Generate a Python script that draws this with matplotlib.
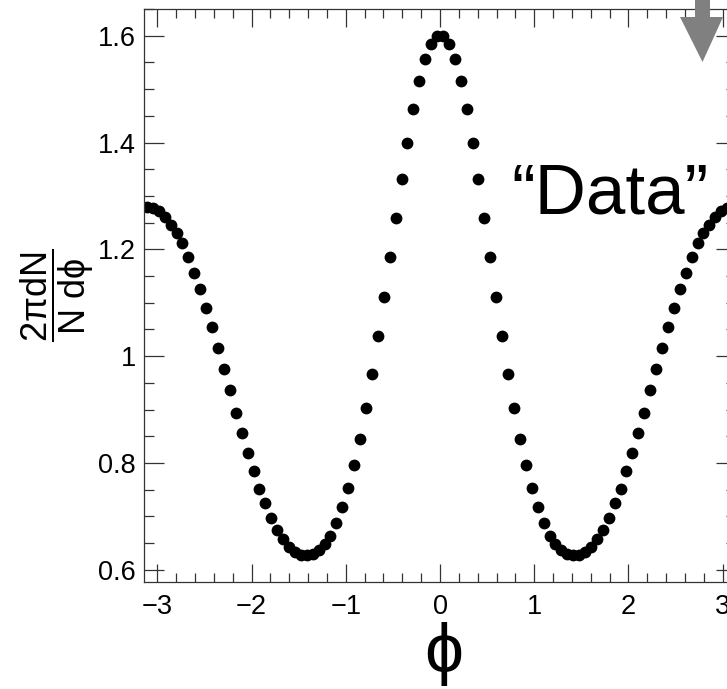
import numpy as np
import matplotlib
matplotlib.use("Agg")
import matplotlib.pyplot as plt
from matplotlib.patches import Polygon
from matplotlib.ticker import MultipleLocator

plt.rcParams["font.family"] = ["Liberation Sans", "DejaVu Sans"]
plt.rcParams["mathtext.fontset"] = "custom"
plt.rcParams["mathtext.rm"] = "Liberation Sans"
plt.rcParams["mathtext.it"] = "Liberation Sans"
plt.rcParams["mathtext.bf"] = "Liberation Sans:bold"

# =========================
# Data
# =========================

# histogram of 100 bins over [-pi, pi]
n_bins = 100
edges = np.linspace(-np.pi, np.pi, n_bins + 1)
phi = 0.5 * (edges[:-1] + edges[1:])

# 2pi/N dN/dphi, from phi = -pi up to 0
dndphi_neg = [1.280, 1.277, 1.271, 1.260, 1.246, 1.230, 1.211, 1.185, 1.156, 1.126,
              1.091, 1.055, 1.016, 0.976, 0.936, 0.894, 0.856, 0.818, 0.784, 0.751,
              0.724, 0.697, 0.675, 0.657, 0.642, 0.633, 0.628, 0.627, 0.630, 0.637,
              0.648, 0.664, 0.687, 0.717, 0.753, 0.796, 0.845, 0.903, 0.967, 1.037,
              1.110, 1.185, 1.259, 1.332, 1.400, 1.462, 1.515, 1.556, 1.584, 1.600]

# from phi = 0 up to pi
dndphi_pos = [1.600, 1.584, 1.556, 1.515, 1.462, 1.400, 1.332, 1.259, 1.185, 1.110,
              1.037, 0.967, 0.903, 0.845, 0.796, 0.753, 0.717, 0.687, 0.664, 0.648,
              0.637, 0.630, 0.627, 0.628, 0.633, 0.642, 0.657, 0.675, 0.697, 0.724,
              0.751, 0.784, 0.818, 0.856, 0.894, 0.936, 0.976, 1.016, 1.055, 1.091,
              1.126, 1.156, 1.185, 1.211, 1.230, 1.246, 1.260, 1.271, 1.277, 1.280]

y_vals = np.array(dndphi_neg + dndphi_pos)

x_ticks = [-3, -2, -1, 0, 1, 2, 3]
x_ticklabels = ["\u22123", "\u22122", "\u22121", "0", "1", "2", "3"]
y_ticks = [0.6, 0.8, 1.0, 1.2, 1.4, 1.6]
y_ticklabels = ["0.6", "0.8", "1", "1.2", "1.4", "1.6"]

# =========================
# Figure
# =========================

W, H = 727, 689
fig = plt.figure(figsize=(W / 100, H / 100), dpi=100)

# frame runs a bit past the right edge of the picture
ax = fig.add_axes([144 / W, (H - 582) / H, 592 / W, 573 / H])

ax.plot(phi, y_vals, "o", color="black", ms=8.5, mew=0)

ax.set_xlim(-np.pi, np.pi)
ax.set_ylim(0.577, 1.650)

ax.set_xticks(x_ticks)
ax.set_xticklabels(x_ticklabels)
ax.set_yticks(y_ticks)
ax.set_yticklabels(y_ticklabels)
ax.xaxis.set_minor_locator(MultipleLocator(0.2))
ax.yaxis.set_minor_locator(MultipleLocator(0.05))

ax.tick_params(which="both", direction="in", top=True, right=True,
               width=0.9, color="#333333", labelsize=19.5)
ax.tick_params(axis="x", which="major", length=13, pad=9)
ax.tick_params(axis="x", which="minor", length=6.5)
ax.tick_params(axis="y", which="major", length=14.4, pad=6)
ax.tick_params(axis="y", which="minor", length=7.2)

for s in ax.spines.values():
    s.set_linewidth(0.9)
    s.set_color("#333333")

# axis titles
fig.text(57 / W, 1 - 295 / H, r"$\dfrac{2\pi dN}{N\ d\phi}$", fontsize=26,
         rotation=90, ha="center", va="center", rotation_mode="anchor")
fig.text(444 / W, 1 - 672 / H, "\u03d5", fontsize=50, ha="center", va="baseline")

# annotation
fig.text(511 / W, 1 - 213 / H, "\u201cData\u201d", fontsize=51,
         ha="left", va="baseline")

arrow_px = [(695, 0), (710, 0), (710, 17), (723, 17), (702.5, 62),
            (680, 17), (695, 17)]
arrow = Polygon([(x / W, 1 - y / H) for x, y in arrow_px], closed=True,
                transform=fig.transFigure, facecolor="#808080",
                edgecolor="none", zorder=10)
fig.add_artist(arrow)

fig.savefig("out.png", dpi=100)
